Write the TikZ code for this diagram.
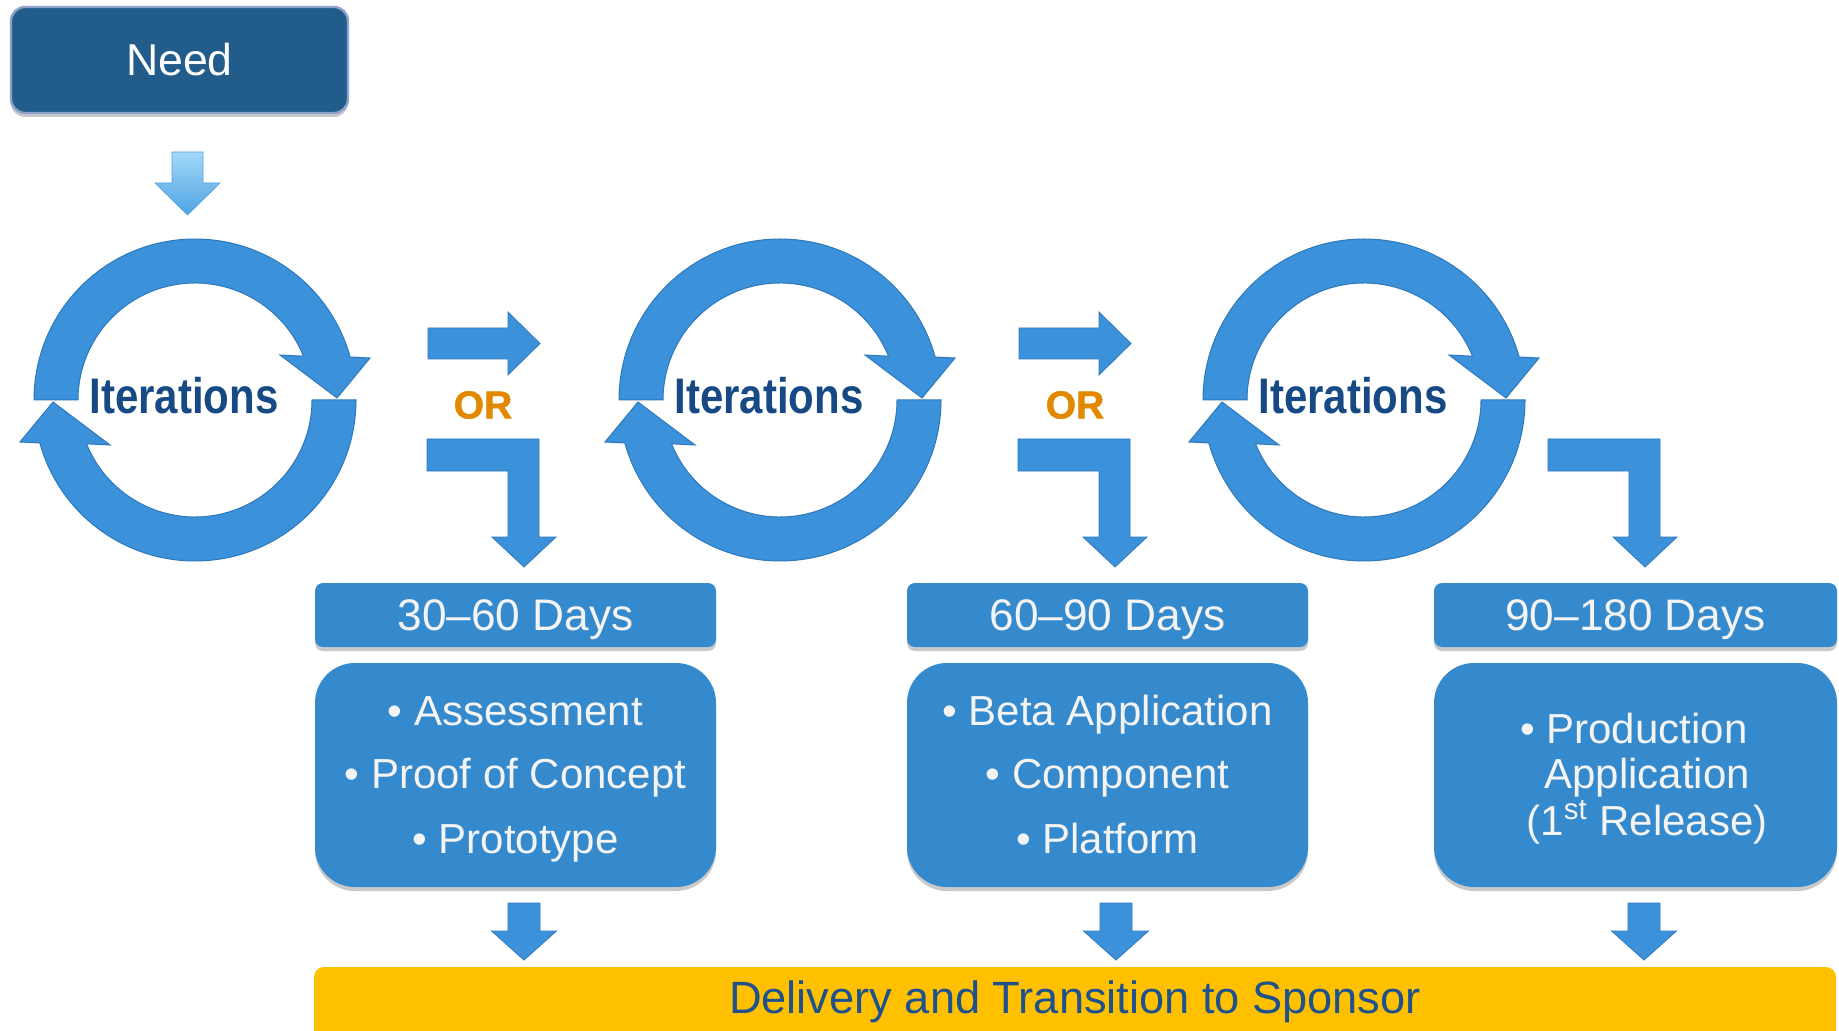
\documentclass[tikz,border=0pt]{standalone}
\usepackage{fontspec}
\setmainfont{Liberation Sans}
\newfontfamily\narrowsans{Liberation Sans}[FakeStretch=0.84]
\newfontfamily\heavysans{Liberation Sans Bold}[FakeBold=1.2]
\usetikzlibrary{shadows,calc}
\definecolor{needblue}{HTML}{215C8B}
\definecolor{neededge}{HTML}{8EA2CC}
\definecolor{ringblue}{HTML}{3B92DA}
\definecolor{ringedge}{HTML}{2E78BC}
\definecolor{boxblue}{HTML}{3589CD}
\definecolor{itblue}{HTML}{174A84}
\definecolor{orange}{HTML}{E38900}
\definecolor{delyellow}{HTML}{FFC000}
\definecolor{deltext}{HTML}{1F528C}
\definecolor{softwhite}{HTML}{F4F4F4}
\definecolor{arrtop}{HTML}{A2D8F8}
\definecolor{arrbot}{HTML}{4FA3E3}
\tikzset{
  cycarrow/.pic={
    \foreach \rot in {0,180}{
      \fill[ringblue, draw=ringedge, line width=0.5pt, rotate=\rot]
        (180:161) arc[start angle=180, end angle=344.5, radius=161]
        -- (175,-42) -- (142,-2) -- (85,-45)
        -- (338:117) arc[start angle=338, end angle=180, radius=117] -- cycle;
    }
  },
  rightarrow/.pic={
    \fill[ringblue, draw=ringedge, line width=0.4pt]
      (0,0) -- (80,0) -- (80,-16) -- (112,15.5) -- (80,47) -- (80,31) -- (0,31) -- cycle;
  },
  bentarrow/.pic={
    \fill[ringblue, draw=ringedge, line width=0.4pt]
      (0,0) -- (112,0) -- (112,98) -- (129,98) -- (97,128) -- (65,98) -- (81,98) -- (81,32) -- (0,32) -- cycle;
  },
  downarrow/.pic={
    \fill[ringblue, draw=ringedge, line width=0.4pt]
      (-16,0) -- (16,0) -- (16,28) -- (32.5,28) -- (0,57) -- (-32.5,28) -- (-16,28) -- cycle;
  },
}
\begin{document}
\begin{tikzpicture}[x=0.5pt,y=-0.5pt,
  softshadow/.style={drop shadow={shadow xshift=0pt, shadow yshift=-2pt, opacity=.3, fill=black!70}},
  boxnode/.style={rectangle, fill=boxblue, inner sep=0pt, softshadow},
  daystext/.style={text=softwhite, font=\fontsize{22.1}{26}\selectfont, anchor=base, inner sep=0pt},
  itemtext/.style={text=softwhite, font=\fontsize{21}{25}\selectfont, anchor=base, inner sep=0pt},
  ittext/.style={text=itblue, font=\narrowsans\bfseries\fontsize{25}{30}\selectfont, inner sep=0pt},
  ortext/.style={text=orange, font=\heavysans\fontsize{19.5}{22}\selectfont, inner sep=0pt},
]
\useasboundingbox (0,0) rectangle (1839,1031);

% Need box
\node[rectangle, rounded corners=7pt, fill=needblue, draw=neededge, line width=1.2pt,
      minimum width=168.5pt, minimum height=53pt, inner sep=0pt, text=white,
      font=\fontsize{22.3}{26}\selectfont, softshadow] (need) at (179.5,60) {Need};

% arrow under Need
\shade[top color=arrtop, bottom color=arrbot, draw=arrbot, line width=0.3pt]
  (172,152) -- (203,152) -- (203,183) -- (220,183) -- (187.5,215) -- (155,183) -- (172,183) -- cycle;

% iteration cycles
\pic at (195,400) {cycarrow};
\pic at (780,400) {cycarrow};
\pic at (1364,400) {cycarrow};
\node[ittext] (it1) at (184,396) {Iterations};
\node[ittext] (it2) at (769,396) {Iterations};
\node[ittext] (it3) at (1353,396) {Iterations};

% OR groups
\pic at (428,328) {rightarrow};
\pic at (1019,328) {rightarrow};
\node[ortext] (or1) at (483,405) {OR};
\node[ortext] (or2) at (1075,405) {OR};
\pic at (427,439) {bentarrow};
\pic at (1018,439) {bentarrow};
\pic at (1548,439) {bentarrow};

% Days boxes
\node[boxnode, rounded corners=4pt, minimum width=200.5pt, minimum height=32pt] (d1) at (515.5,615) {};
\node[boxnode, rounded corners=4pt, minimum width=200.5pt, minimum height=32pt] (d2) at (1107.5,615) {};
\node[boxnode, rounded corners=4pt, minimum width=201.5pt, minimum height=32pt] (d3) at (1635.5,615) {};
\node[daystext] (d1t) at (515.5,630) {30--60 Days};
\node[daystext] (d2t) at (1107.5,630) {60--90 Days};
\node[daystext] (d3t) at (1635.5,630) {90--180 Days};

% Content boxes
\node[boxnode, rounded corners=20pt, minimum width=200.5pt, minimum height=112pt] (c1) at (515.5,775) {};
\node[boxnode, rounded corners=20pt, minimum width=200.5pt, minimum height=112pt] (c2) at (1107.5,775) {};
\node[boxnode, rounded corners=20pt, minimum width=201.5pt, minimum height=112pt] (c3) at (1635.5,775) {};
\node[itemtext] (c1a) at (515.5,725) {• Assessment};
\node[itemtext] (c1b) at (515.5,788) {• Proof of Concept};
\node[itemtext] (c1c) at (515.5,853) {• Prototype};
\node[itemtext] (c2a) at (1107.5,725) {• Beta Application};
\node[itemtext] (c2b) at (1107.5,788) {• Component};
\node[itemtext] (c2c) at (1107.5,853) {• Platform};
\node[itemtext] (c3a) at (1647,743) {\llap{•\ }Production};
\node[itemtext] (c3b) at (1647,788) {Application};
\node[itemtext] (c3c) at (1647,835) {(1\textsuperscript{st} Release)};

% down arrows to delivery
\pic at (524,903) {downarrow};
\pic at (1116,903) {downarrow};
\pic at (1644,903) {downarrow};

% Delivery bar
\node[rectangle, fill=delyellow, rounded corners=5pt, minimum width=761pt, minimum height=44pt, inner sep=0pt] (delbar) at (1075,1011) {};
\node[anchor=base, text=deltext, font=\fontsize{22.6}{26}\selectfont, inner sep=0pt] (delt) at (1075,1013) {Delivery and Transition to Sponsor};
\end{tikzpicture}
\end{document}
